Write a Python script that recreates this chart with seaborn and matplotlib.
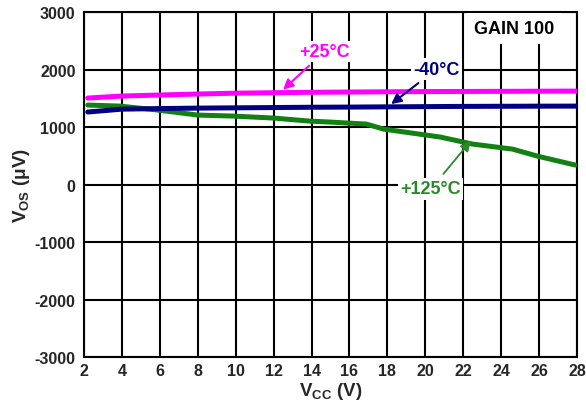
import matplotlib
matplotlib.use("Agg")
import matplotlib.pyplot as plt
import seaborn as sns
import pandas as pd

# Supply voltage sweep (V)
vcc_pos25 = [2.2, 4, 6, 8, 10, 12, 14, 16, 18, 20, 22, 24, 26, 28]
vos_pos25 = [1505, 1540, 1558, 1575, 1590, 1598, 1605, 1610, 1614, 1618, 1620, 1622, 1624, 1626]

vcc_neg40 = [2.2, 4, 6, 8, 10, 12, 14, 16, 18, 20, 22, 24, 26, 28]
vos_neg40 = [1262, 1312, 1322, 1330, 1335, 1340, 1345, 1348, 1352, 1356, 1360, 1362, 1364, 1365]

vcc_pos125 = [2.2, 3.9, 5.9, 8.0, 9.9, 12.0, 13.9, 15.0, 16.9, 17.8, 20.8, 22.5, 24.6, 25.9, 27.9]
vos_pos125 = [1383, 1365, 1296, 1209, 1191, 1157, 1104, 1087, 1052, 965, 826, 704, 617, 496, 340]

x_ticks = list(range(2, 29, 2))
y_ticks = list(range(-3000, 3001, 1000))

frames = [
    pd.DataFrame({"vcc": vcc_pos25, "vos": vos_pos25, "temp": "+25°C"}),
    pd.DataFrame({"vcc": vcc_neg40, "vos": vos_neg40, "temp": "-40°C"}),
    pd.DataFrame({"vcc": vcc_pos125, "vos": vos_pos125, "temp": "+125°C"}),
]
df = pd.concat(frames, ignore_index=True)

colors = {"+25°C": "#ff00ff", "-40°C": "#000080", "+125°C": "#138013"}

sns.set_style("white")
plt.rcParams["font.family"] = ["Liberation Sans", "DejaVu Sans"]
plt.rcParams["font.weight"] = "bold"
plt.rcParams["mathtext.default"] = "regular"

fig = plt.figure(figsize=(5.86, 4.10), dpi=100)
ax = fig.add_axes([0.1433, 0.1268, 0.8413, 0.8412])

sns.lineplot(data=df, x="vcc", y="vos", hue="temp", palette=colors,
             hue_order=["+25°C", "+125°C", "-40°C"], linewidth=3.6,
             legend=False, ax=ax, sort=False, zorder=3)

ax.set_xlim(2, 28)
ax.set_ylim(-3000, 3000)
ax.set_xticks(x_ticks)
ax.set_yticks(y_ticks)
ax.set_xticklabels([str(v) for v in x_ticks], fontsize=11.5, fontweight="bold")
ax.set_yticklabels([str(v) for v in y_ticks], fontsize=11.5, fontweight="bold")
ax.tick_params(axis="y", length=0, pad=6)
ax.tick_params(axis="x", length=0, pad=4)
ax.grid(True, color="black", linewidth=1.5, zorder=1)
ax.set_axisbelow(True)
for s in ax.spines.values():
    s.set_color("black")
    s.set_linewidth(1.5)

ax.set_xlabel(r"V$_{\mathregular{CC}}$ (V)", fontsize=13.5, fontweight="bold", labelpad=2)
ax.set_ylabel(r"V$_{\mathregular{OS}}$ ($\mathregular{\mu}$V)", fontsize=13.5, fontweight="bold", labelpad=2)

box = dict(facecolor="white", edgecolor="none", pad=1.5)

ax.text(24.7, 2720, "GAIN 100", fontsize=13, fontweight="bold", color="black",
        ha="center", va="center", bbox=dict(facecolor="white", edgecolor="none", pad=5), zorder=5)

ax.annotate("+25°C", xy=(12.5, 1650), xytext=(14.7, 2320), color="#ff00ff",
            fontsize=13, fontweight="bold", ha="center", va="center", bbox=box, zorder=5,
            arrowprops=dict(arrowstyle="-|>", color="#ff00ff", lw=1.5, mutation_scale=15,
                            shrinkA=4, shrinkB=0))
ax.annotate("-40°C", xy=(18.2, 1400), xytext=(20.6, 2010), color="#000080",
            fontsize=13, fontweight="bold", ha="center", va="center", bbox=box, zorder=5,
            arrowprops=dict(arrowstyle="-|>", color="#000080", lw=1.5, mutation_scale=15,
                            shrinkA=4, shrinkB=0))
ax.annotate("+125°C", xy=(22.4, 760), xytext=(20.3, -75), color="#2a8a2a",
            fontsize=13, fontweight="bold", ha="center", va="center", bbox=box, zorder=5,
            arrowprops=dict(arrowstyle="-|>", color="#2a8a2a", lw=1.3, mutation_scale=15,
                            shrinkA=4, shrinkB=0))

fig.savefig("out.png", dpi=100)
